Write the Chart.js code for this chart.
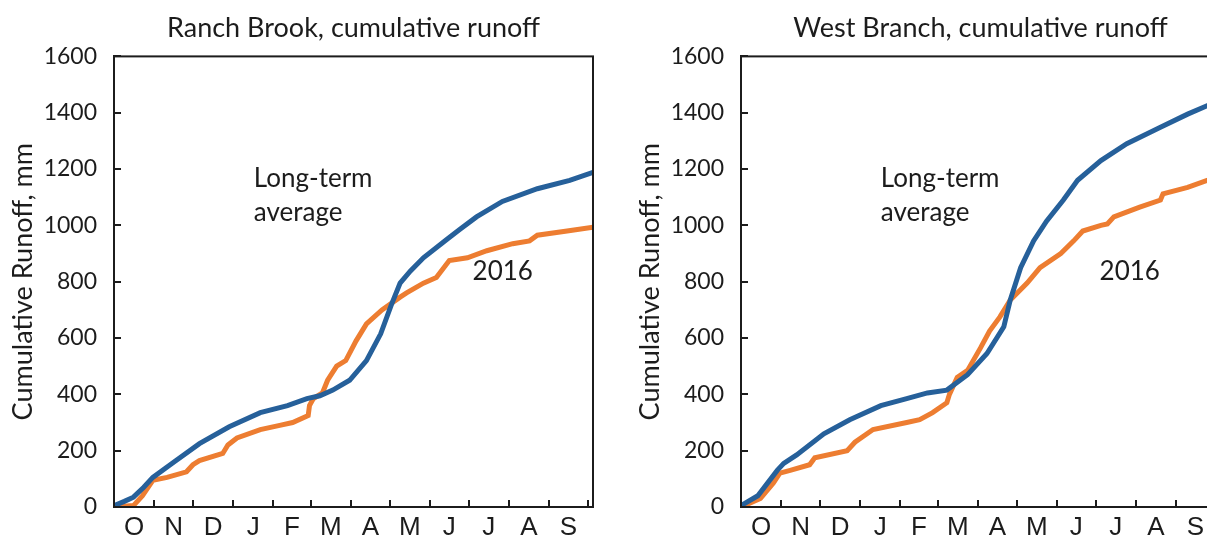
<!DOCTYPE html>
<html>
<head>
<meta charset="utf-8">
<title>Cumulative runoff</title>
<script src="https://cdn.jsdelivr.net/npm/chart.js@4.4.1/dist/chart.umd.min.js"></script>
<style>
    html, body { margin: 0; padding: 0; background: #fff; overflow: hidden; }
    body { width: 1207px; height: 538px; position: relative; }
    .panel { position: absolute; top: 0; width: 610px; height: 538px; }
    #ranchPanel { left: 0; }
    #westPanel { left: 627px; }
</style>
</head>
<body>
<div class="panel" id="ranchPanel"><canvas id="ranchChart"></canvas></div>
<div class="panel" id="westPanel"><canvas id="westChart"></canvas></div>
<script>
// x values are days into the water year (0 = Oct 1)
const monthLabels = ['O', 'N', 'D', 'J', 'F', 'M', 'A', 'M', 'J', 'J', 'A', 'S'];
const monthStartDays = [0, 31, 61, 92, 123, 152, 183, 213, 244, 274, 305, 336, 366];
const runoffTicks = [0, 200, 400, 600, 800, 1000, 1200, 1400, 1600];

// Ranch Brook
const ranchAvgDays = [0, 8, 15, 23, 30, 45, 66, 89, 113, 134, 149, 159, 169, 182, 195, 206, 214, 221, 229, 239, 257, 267, 280, 300, 327, 352, 370];
const ranchAvgMm = [5, 20, 35, 70, 105, 155, 225, 285, 335, 360, 385, 395, 415, 450, 520, 615, 715, 795, 838, 885, 950, 985, 1030, 1085, 1130, 1160, 1188];
const ranch2016Days = [0, 15, 22, 30, 41, 56, 61, 66, 84, 88, 95, 113, 128, 138, 150, 151, 154, 161, 165, 172, 179, 187, 195, 207, 221, 226, 239, 249, 259, 273, 288, 308, 321, 327, 350, 370];
const ranch2016Mm = [0, 5, 40, 95, 105, 125, 150, 165, 190, 220, 245, 275, 290, 300, 325, 360, 385, 405, 450, 500, 520, 590, 650, 700, 745, 760, 795, 815, 875, 885, 910, 935, 945, 965, 980, 993];

// West Branch
const westAvgDays = [0, 13, 28, 33, 43, 64, 84, 108, 128, 144, 159, 175, 190, 203, 208, 216, 226, 236, 249, 260, 278, 298, 324, 345, 360, 370];
const westAvgMm = [5, 40, 130, 155, 185, 260, 310, 360, 385, 405, 415, 470, 545, 640, 735, 850, 945, 1015, 1090, 1160, 1230, 1290, 1348, 1395, 1425, 1445];
const west2016Days = [0, 15, 25, 30, 38, 53, 57, 82, 88, 102, 128, 138, 148, 159, 161, 167, 175, 185, 192, 200, 208, 221, 231, 247, 257, 264, 278, 283, 288, 308, 324, 326, 345, 360, 370];
const west2016Mm = [0, 30, 85, 120, 130, 150, 175, 200, 230, 275, 300, 310, 335, 370, 400, 460, 485, 565, 625, 675, 735, 795, 850, 900, 945, 980, 1000, 1005, 1030, 1065, 1090, 1112, 1135, 1160, 1170];

// in-plot labels, placed in data units
const noteLabels = [
    { text: 'Long-term', day: 108, mm: 1167 },
    { text: 'average', day: 108, mm: 1046 },
    { text: '2016', day: 277, mm: 837 }
];

const inkColor = '#1c1c1c';

function toPoints(days, values) {
    return days.map(function (d, i) { return { x: d, y: values[i] }; });
}

// month labels sit mid-month, tick marks at month starts
const midMonthDays = monthLabels.map(function (m, i) {
    return (monthStartDays[i] + monthStartDays[i + 1]) / 2;
});

// black frame round the plot area, with short inward tick marks
const plotFrame = {
    id: 'plotFrame',
    afterDraw: function (chart) {
        const ctx = chart.ctx;
        const a = chart.chartArea;
        const x = chart.scales.x;
        const y = chart.scales.y;
        ctx.save();
        ctx.strokeStyle = inkColor;
        ctx.lineWidth = 2;
        ctx.strokeRect(a.left, a.top, a.right - a.left, a.bottom - a.top);
        ctx.beginPath();
        monthStartDays.forEach(function (d) {
            const px = Math.round(x.getPixelForValue(d));
            ctx.moveTo(px, a.bottom);
            ctx.lineTo(px, a.bottom - 7);
        });
        runoffTicks.forEach(function (v) {
            const py = Math.round(y.getPixelForValue(v));
            ctx.moveTo(a.left, py);
            ctx.lineTo(a.left + 7, py);
        });
        ctx.stroke();
        ctx.restore();
    }
};

const runoffNotes = {
    id: 'runoffNotes',
    afterDatasetsDraw: function (chart) {
        const ctx = chart.ctx;
        const x = chart.scales.x;
        const y = chart.scales.y;
        ctx.save();
        ctx.font = '26px Lato';
        ctx.fillStyle = inkColor;
        ctx.textAlign = 'left';
        ctx.textBaseline = 'middle';
        noteLabels.forEach(function (n) {
            ctx.fillText(n.text, x.getPixelForValue(n.day), y.getPixelForValue(n.mm));
        });
        ctx.restore();
    }
};

function runoffChart(canvasId, titleText, avgDays, avgMm, obsDays, obsMm) {
    const ctx = document.getElementById(canvasId).getContext('2d');
    return new Chart(ctx, {
        type: 'line',
        data: {
            datasets: [{
                label: 'Long-term average',
                data: toPoints(avgDays, avgMm),
                borderColor: '#26609A',
                borderWidth: 5,
                pointRadius: 0,
                tension: 0
            }, {
                label: '2016',
                data: toPoints(obsDays, obsMm),
                borderColor: '#ED7D31',
                borderWidth: 5,
                pointRadius: 0,
                tension: 0
            }]
        },
        options: {
            responsive: true,
            maintainAspectRatio: false,
            animation: false,
            layout: { padding: { left: 0, right: 17, top: 0, bottom: 0 } },
            plugins: {
                legend: { display: false },
                tooltip: { enabled: false },
                title: {
                    display: true,
                    text: titleText,
                    fullSize: false,
                    color: inkColor,
                    font: { family: 'Lato', size: 27, weight: 'normal' },
                    padding: { top: 12, bottom: 12 }
                }
            },
            scales: {
                x: {
                    type: 'linear',
                    min: 0,
                    max: 370,
                    afterBuildTicks: function (scale) {
                        scale.ticks = midMonthDays.map(function (v) { return { value: v }; });
                    },
                    afterFit: function (scale) { scale.height = 31; },
                    grid: { display: false, drawTicks: false },
                    border: { color: inkColor, width: 2 },
                    ticks: {
                        autoSkip: false,
                        maxRotation: 0,
                        padding: 5,
                        color: inkColor,
                        font: { family: 'Liberation Sans', size: 26 },
                        callback: function (value, index) { return monthLabels[index]; }
                    }
                },
                y: {
                    min: 0,
                    max: 1600,
                    afterBuildTicks: function (scale) {
                        scale.ticks = runoffTicks.map(function (v) { return { value: v }; });
                    },
                    afterFit: function (scale) { scale.width = 114; },
                    grid: { display: false, drawTicks: false },
                    border: { color: inkColor, width: 2 },
                    ticks: {
                        padding: 17,
                        color: inkColor,
                        font: { family: 'Lato', size: 23 },
                        callback: function (value) { return String(value); }
                    },
                    title: {
                        display: true,
                        text: 'Cumulative Runoff, mm',
                        color: inkColor,
                        font: { family: 'Lato', size: 27 },
                        padding: { top: 7, bottom: 0 }
                    }
                }
            }
        },
        plugins: [plotFrame, runoffNotes]
    });
}

document.addEventListener('DOMContentLoaded', function () {
    runoffChart('ranchChart', 'Ranch Brook, cumulative runoff', ranchAvgDays, ranchAvgMm, ranch2016Days, ranch2016Mm);
    runoffChart('westChart', 'West Branch, cumulative runoff', westAvgDays, westAvgMm, west2016Days, west2016Mm);
});
</script>
</body>
</html>
